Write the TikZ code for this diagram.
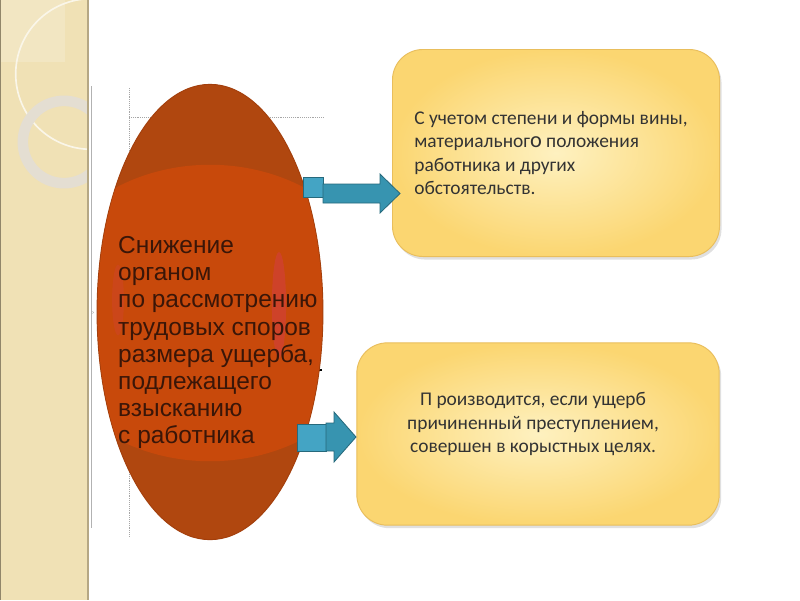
\documentclass[tikz,border=0pt]{standalone}
\usepackage{fontspec}
\setmainfont{Liberation Sans}
\newfontfamily\calibri{Carlito}
\usetikzlibrary{shapes.geometric,positioning}

\definecolor{strip}{HTML}{F0E1B5}
\definecolor{stripedge}{HTML}{B5A784}
\definecolor{ringgray}{HTML}{E4DED2}
\definecolor{organdark}{HTML}{B0470F}
\definecolor{organlight}{HTML}{C8490B}
\definecolor{organrim}{HTML}{A33F0C}
\definecolor{organtext}{HTML}{3A1608}
\definecolor{boxlight}{HTML}{FEF1C0}
\definecolor{boxdark}{HTML}{FBD671}
\definecolor{boxedge}{HTML}{E9BE5C}
\definecolor{arrowblue}{HTML}{3794B0}
\definecolor{arrowtail}{HTML}{44A4C4}
\definecolor{arrowedge}{HTML}{26697C}

\begin{document}
\begin{tikzpicture}[x=0.85pt,y=-0.85pt,
    infobox/.style={rectangle, rounded corners=26pt, inner color=boxlight, outer color=boxdark, draw=boxedge, line width=0.8pt},
    boxshadow/.style={rectangle, rounded corners=26pt, fill=black, fill opacity=0.12},
    infotext/.style={font=\calibri\fontsize{16.5}{20}\selectfont, text=black!80, inner sep=0pt},
    bluearrow/.style={fill=arrowblue, draw=arrowedge, line width=0.7pt, line join=miter},
    bluetail/.style={fill=arrowtail, draw=arrowedge, line width=0.5pt},
    guide/.style={densely dotted, gray!70, line width=0.6pt}]

                % Page
                \useasboundingbox (0,0) rectangle (800,600);
                \fill[white] (0,0) rectangle (800,600);

                % Left strip with rings
                \fill[strip] (0,0) rectangle (88,600);
                \begin{scope}
                    \clip (0,0) rectangle (88,600);
                    \fill[white, opacity=0.18] (0,0) rectangle (65,62);
                    \draw[white!70!strip, line width=1.4pt] (91,74) circle [radius=64pt];
                    \draw[ringgray, line width=9pt] (64,142) circle [radius=35pt];
                \end{scope}
                \draw[stripedge, line width=1pt] (88,0) -- (88,600);
                \draw[stripedge!80!black, line width=1.2pt] (0.6,0) -- (0.6,600);
                \draw[gray!60, line width=0.5pt] (91,86) -- (91,528);
                \node[font=\tiny, text=gray] (mark) at (93,313) {›};

                % Guide lines behind the ellipse
                \draw[guide] (129,88) -- (129,537);
                \draw[guide] (129,117) -- (324,117);
                \fill[black] (319,369) rectangle (322,371);

                % Ellipse
                \node[ellipse, draw=organrim, line width=0.8pt, fill=organdark,
                      minimum width=192pt, minimum height=387pt] (organ) at (210,312) {};
                \begin{scope}
                    \clip (210,312) ellipse [x radius=95.6pt, y radius=193.4pt];
                    \fill[organlight] (210,313) ellipse [x radius=150pt, y radius=126pt];
                    \fill[magenta!60!organlight, opacity=0.3] (279,305) ellipse [x radius=6pt, y radius=45pt];
                    \fill[magenta!60!organlight, opacity=0.15] (118,300) ellipse [x radius=5pt, y radius=30pt];
                \end{scope}
                \node[anchor=north west, align=left, inner sep=0pt, text=organtext,
                      font=\fontsize{20.8}{23}\selectfont] (organtext) at (118,236.5)
                      {Снижение\\органом\\по рассмотрению\\трудовых споров\\размера ущерба,\\подлежащего\\взысканию\\с работника};

                % Boxes
                \node[boxshadow, minimum width=278pt, minimum height=176pt] at (558,156) {};
                \node[infobox, minimum width=278pt, minimum height=176pt] (upper) at (556,153) {};
                \node[infotext, align=left] (uppertext) at (551,153)
                      {С учетом степени и формы вины,\\материальног{\fontsize{19}{20}\selectfont о} положения\\работника и других\\обстоятельств.};

                \node[boxshadow, minimum width=308pt, minimum height=155pt] at (540,437) {};
                \node[infobox, minimum width=308pt, minimum height=155pt] (lower) at (538,434) {};
                \node[infotext, align=center] (lowertext) at (533,424)
                      {П роизводится, если ущерб\\причиненный преступлением,\\совершен в корыстных целях.};

                % Arrows
                \draw[bluetail] (303,177) rectangle (323,197);
                \draw[bluearrow] (323,184) -- (380,184) -- (380,174) -- (400,193.5)
                      -- (380,213) -- (380,203) -- (323,203) -- cycle;
                \draw[bluetail] (297,424) rectangle (326,451);
                \draw[bluearrow] (326,423) -- (334,423) -- (334,412) -- (356,437)
                      -- (334,462) -- (334,451) -- (326,451) -- cycle;
\end{tikzpicture}
\end{document}
